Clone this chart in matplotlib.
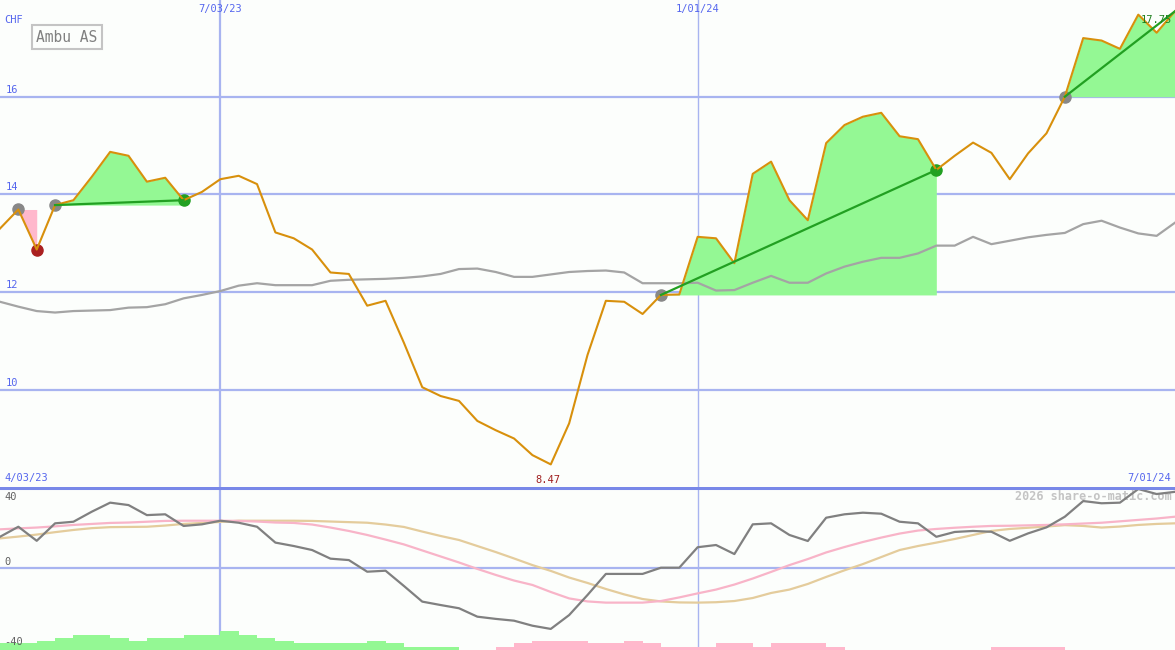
import numpy as np
import matplotlib
matplotlib.use("Agg")
import matplotlib.pyplot as plt
import matplotlib.dates as mdates

# weekly closes, Ambu AS (CHF)
start = np.datetime64("2023-04-10")
weeks = start + np.arange(65) * np.timedelta64(7, "D")

price = [13.30, 13.69, 12.87, 13.78, 13.88, 14.36, 14.87, 14.79, 14.26, 14.34,
         13.88, 14.05, 14.31, 14.38, 14.21, 13.22, 13.10, 12.87, 12.40, 12.37,
         11.72, 11.82, 10.96, 10.05, 9.87, 9.77, 9.36, 9.17, 9.00, 8.66,
         8.47, 9.31, 10.71, 11.82, 11.80, 11.55, 11.94, 11.95, 13.13, 13.10,
         12.59, 14.42, 14.67, 13.88, 13.47, 15.05, 15.42, 15.59, 15.67, 15.19,
         15.13, 14.50, 14.79, 15.06, 14.85, 14.31, 14.84, 15.25, 16.00, 17.20,
         17.15, 16.98, 17.68, 17.31, 17.75]

mov_avg = [11.80, 11.70, 11.61, 11.58, 11.61, 11.62, 11.63, 11.68, 11.69, 11.75,
           11.87, 11.94, 12.02, 12.13, 12.18, 12.14, 12.14, 12.14, 12.23, 12.25,
           12.26, 12.27, 12.29, 12.32, 12.37, 12.47, 12.48, 12.41, 12.31, 12.31,
           12.36, 12.41, 12.43, 12.44, 12.40, 12.18, 12.18, 12.18, 12.19, 12.03,
           12.04, 12.19, 12.33, 12.19, 12.19, 12.38, 12.52, 12.62, 12.70, 12.70,
           12.79, 12.95, 12.95, 13.13, 12.98, 13.05, 13.12, 13.17, 13.21, 13.39,
           13.46, 13.32, 13.20, 13.15, 13.42]

osc = [15.4, 20.4, 13.4, 22.1, 22.9, 27.9, 32.4, 31.2, 26.2, 26.6,
       20.8, 21.6, 23.4, 22.4, 20.4, 12.5, 10.8, 8.8, 4.5, 3.8,
       -2.0, -1.5, -9.1, -16.9, -18.6, -20.2, -24.4, -25.5, -26.4, -28.9,
       -30.5, -23.6, -13.6, -3.1, -3.1, -3.1, 0.0, 0.0, 10.2, 11.3,
       6.8, 21.6, 22.1, 16.3, 13.3, 24.9, 26.6, 27.4, 26.9, 22.9,
       22.1, 15.4, 17.8, 18.3, 17.9, 13.4, 17.1, 20.1, 25.4, 33.2,
       32.1, 32.4, 39.2, 36.7, 37.8]

osc_fast = [19.1, 19.6, 20.0, 20.6, 21.3, 21.8, 22.3, 22.5, 22.9, 23.3,
            23.4, 23.4, 23.4, 23.3, 23.0, 22.5, 22.3, 21.5, 20.0, 18.3,
            16.3, 14.0, 11.6, 8.6, 5.6, 2.6, -0.6, -3.6, -6.4, -8.6,
            -12.1, -15.3, -16.8, -17.4, -17.4, -17.4, -16.6, -14.8, -12.8, -10.9,
            -8.4, -5.4, -2.1, 1.3, 4.3, 7.6, 10.3, 12.8, 15.0, 17.0,
            18.5, 19.3, 19.9, 20.4, 20.8, 20.9, 21.1, 21.3, 21.6, 22.0,
            22.4, 23.1, 23.8, 24.5, 25.4]

osc_slow = [14.6, 15.5, 16.5, 17.7, 18.8, 19.7, 20.2, 20.3, 20.4, 21.0,
            21.8, 22.3, 22.8, 23.4, 23.4, 23.4, 23.4, 23.3, 23.0, 22.7,
            22.4, 21.5, 20.3, 18.0, 15.8, 13.8, 10.8, 7.8, 4.6, 1.3,
            -1.6, -4.9, -7.6, -10.6, -13.3, -15.6, -16.8, -17.3, -17.4, -17.2,
            -16.6, -15.1, -12.6, -10.9, -8.1, -4.6, -1.3, 1.8, 5.3, 8.8,
            10.8, 12.5, 14.3, 16.3, 18.3, 19.3, 19.9, 20.5, 21.2, 20.8,
            20.0, 20.5, 21.3, 21.8, 22.1]

# positive = green, negative = pink
hist = [3.3, 3.3, 4.5, 6.1, 7.5, 7.5, 6.1, 4.5, 6.1, 6.1,
        7.5, 7.5, 9.5, 7.5, 6.1, 4.5, 3.3, 3.3, 3.3, 3.3,
        4.5, 3.3, 1.6, 1.6, 1.6, 0, 0, -1.6, -3.3, -4.5,
        -4.5, -4.5, -3.3, -3.3, -4.5, -3.3, -1.6, -1.6, -1.6, -3.3,
        -3.3, -1.6, -3.3, -3.3, -3.3, -1.6, 0, 0, 0, 0,
        0, 0, 0, 0, -1.6, -1.6, -1.6, -1.6, 0, 0,
        0, 0, 0, 0, 0]

# signals: (start week, end week)
up_runs = [(3, 10), (36, 51), (58, 64)]
down_runs = [(1, 2)]

price_ticks = [10, 12, 14, 16]
osc_ticks = [(40, 0.94), (0, 0.54), (-40, 0.05)]
vlines = ["2023-07-03", "2024-01-01"]
vline_labels = ["7/03/23", "1/01/24"]

x = mdates.date2num(weeks)
price = np.array(price)

bg = "#fcfefc"
grid = "#a8b4f0"
blue_txt = "#5566ee"
orange = "#d8900c"
lt_green = "#94f894"
dk_green = "#22a022"
mono = "DejaVu Sans Mono"

fig = plt.figure(figsize=(11.75, 6.5), dpi=100)
fig.patch.set_facecolor(bg)
ax = fig.add_axes([0, 163 / 650, 1, 487 / 650])
ax2 = fig.add_axes([0, 0, 1, 163 / 650])
for a in (ax, ax2):
    a.set_facecolor(bg)
    a.set_xlim(x[0], x[-1])
    a.set_xticks([])
    a.set_yticks([])
    for s in a.spines.values():
        s.set_visible(False)
ax.set_ylim(8.007, 17.98)
ax2.set_ylim(-41.0, 40.2)

# grid
for v in price_ticks:
    ax.axhline(v, color=grid, lw=1.6, zorder=1)
    ax.text(0.005, v + 0.04, str(v), transform=ax.get_yaxis_transform(),
            color=blue_txt, fontsize=7.5, family=mono, va="bottom")
for d, lab, w in zip(vlines, vline_labels, [1.6, 1.0]):
    xd = mdates.date2num(np.datetime64(d))
    ax.axvline(xd, color=grid, lw=w, zorder=1)
    ax2.axvline(xd, color=grid, lw=w, zorder=1)
    ax.text(xd, 0.982, lab, transform=ax.get_xaxis_transform(), ha="center",
            va="center", color=blue_txt, fontsize=7.5, family=mono)

# fills
for i0, i1 in up_runs:
    xs = x[i0:i1 + 1]
    ax.fill_between(xs, price[i0:i1 + 1], price[i0], color=lt_green, lw=0, zorder=2)
for i0, i1 in down_runs:
    xs = x[i0:i1 + 1]
    ax.fill_between(xs, price[i0:i1 + 1], price[i0], color="#ffb8cc", lw=0, zorder=2)

ax.plot(x, mov_avg, color="#a4a4a4", lw=1.6, zorder=3)

# markers
for i0, i1 in down_runs:
    ax.plot(x[i0], price[i0], "o", color="#888888", ms=8, zorder=3)
    ax.plot(x[i1], price[i1], "o", color="#aa2020", ms=8, zorder=3)
for i0, i1 in up_runs:
    ax.plot(x[i0], price[i0], "o", color="#888888", ms=8, zorder=3)
    if i1 < len(x) - 1:
        ax.plot(x[i1], price[i1], "o", color=dk_green, ms=8, zorder=3)

ax.plot(x, price, color=orange, lw=1.5, zorder=4)
for i0, i1 in up_runs:
    ax.plot([x[i0], x[i1]], [price[i0], price[i1]], color=dk_green, lw=1.6, zorder=5)

# min / last
imin = int(np.argmin(price))
ax.annotate(f"{price[imin]:.2f}", (x[imin], price[imin]), xytext=(-2, -11),
            textcoords="offset points", ha="center", va="center",
            color="#a02020", fontsize=7.5, family=mono)
ax.annotate(f"{price[-1]:.2f}", (x[-1], price[-1]), xytext=(-2, -6),
            textcoords="offset points", ha="right", va="center",
            color="#208020", fontsize=7.5, family=mono, zorder=6)

ax.text(0.004, 0.958, "CHF", transform=ax.transAxes, color=blue_txt,
        fontsize=7.5, family=mono, va="center")
ax.text(0.031, 0.924, "Ambu AS", transform=ax.transAxes, color="#808080",
        fontsize=10.5, family=mono, va="center",
        bbox=dict(boxstyle="square,pad=0.3", fc=bg, ec="#c4c4c4", lw=1.5))
ax.text(0.004, 0.018, "4/03/23", transform=ax.transAxes, color=blue_txt,
        fontsize=7.5, family=mono, va="center")
ax.text(0.997, 0.018, "7/01/24", transform=ax.transAxes, color=blue_txt,
        fontsize=7.5, family=mono, va="center", ha="right")

# lower panel
ax2.axhline(0, color=grid, lw=1.6, zorder=1)
ax2.axhline(39.7, color="#7888e8", lw=2.2, zorder=6)
hist = np.array(hist)
bot = -41.0
ax2.bar(x, np.abs(hist), width=7, align="edge", bottom=bot,
        color=np.where(hist > 0, lt_green, "#ffb8cc"), lw=0, zorder=2)
ax2.plot(x, osc_slow, color="#e4cc9c", lw=1.6, zorder=3)
ax2.plot(x, osc_fast, color="#f8b4c8", lw=1.6, zorder=3)
ax2.plot(x, osc, color="#808080", lw=1.6, zorder=4)

for v, yy in osc_ticks:
    ax2.text(0.004, yy, str(v), transform=ax2.transAxes, color="#606060",
             fontsize=7.5, family=mono, va="center")
ax2.text(0.997, 0.94, "2026 share-o-matic.com", transform=ax2.transAxes,
         color="#c4c4c4", fontsize=8.5, family=mono, weight="bold",
         va="center", ha="right")

fig.savefig("out.png", dpi=100, facecolor=bg)
